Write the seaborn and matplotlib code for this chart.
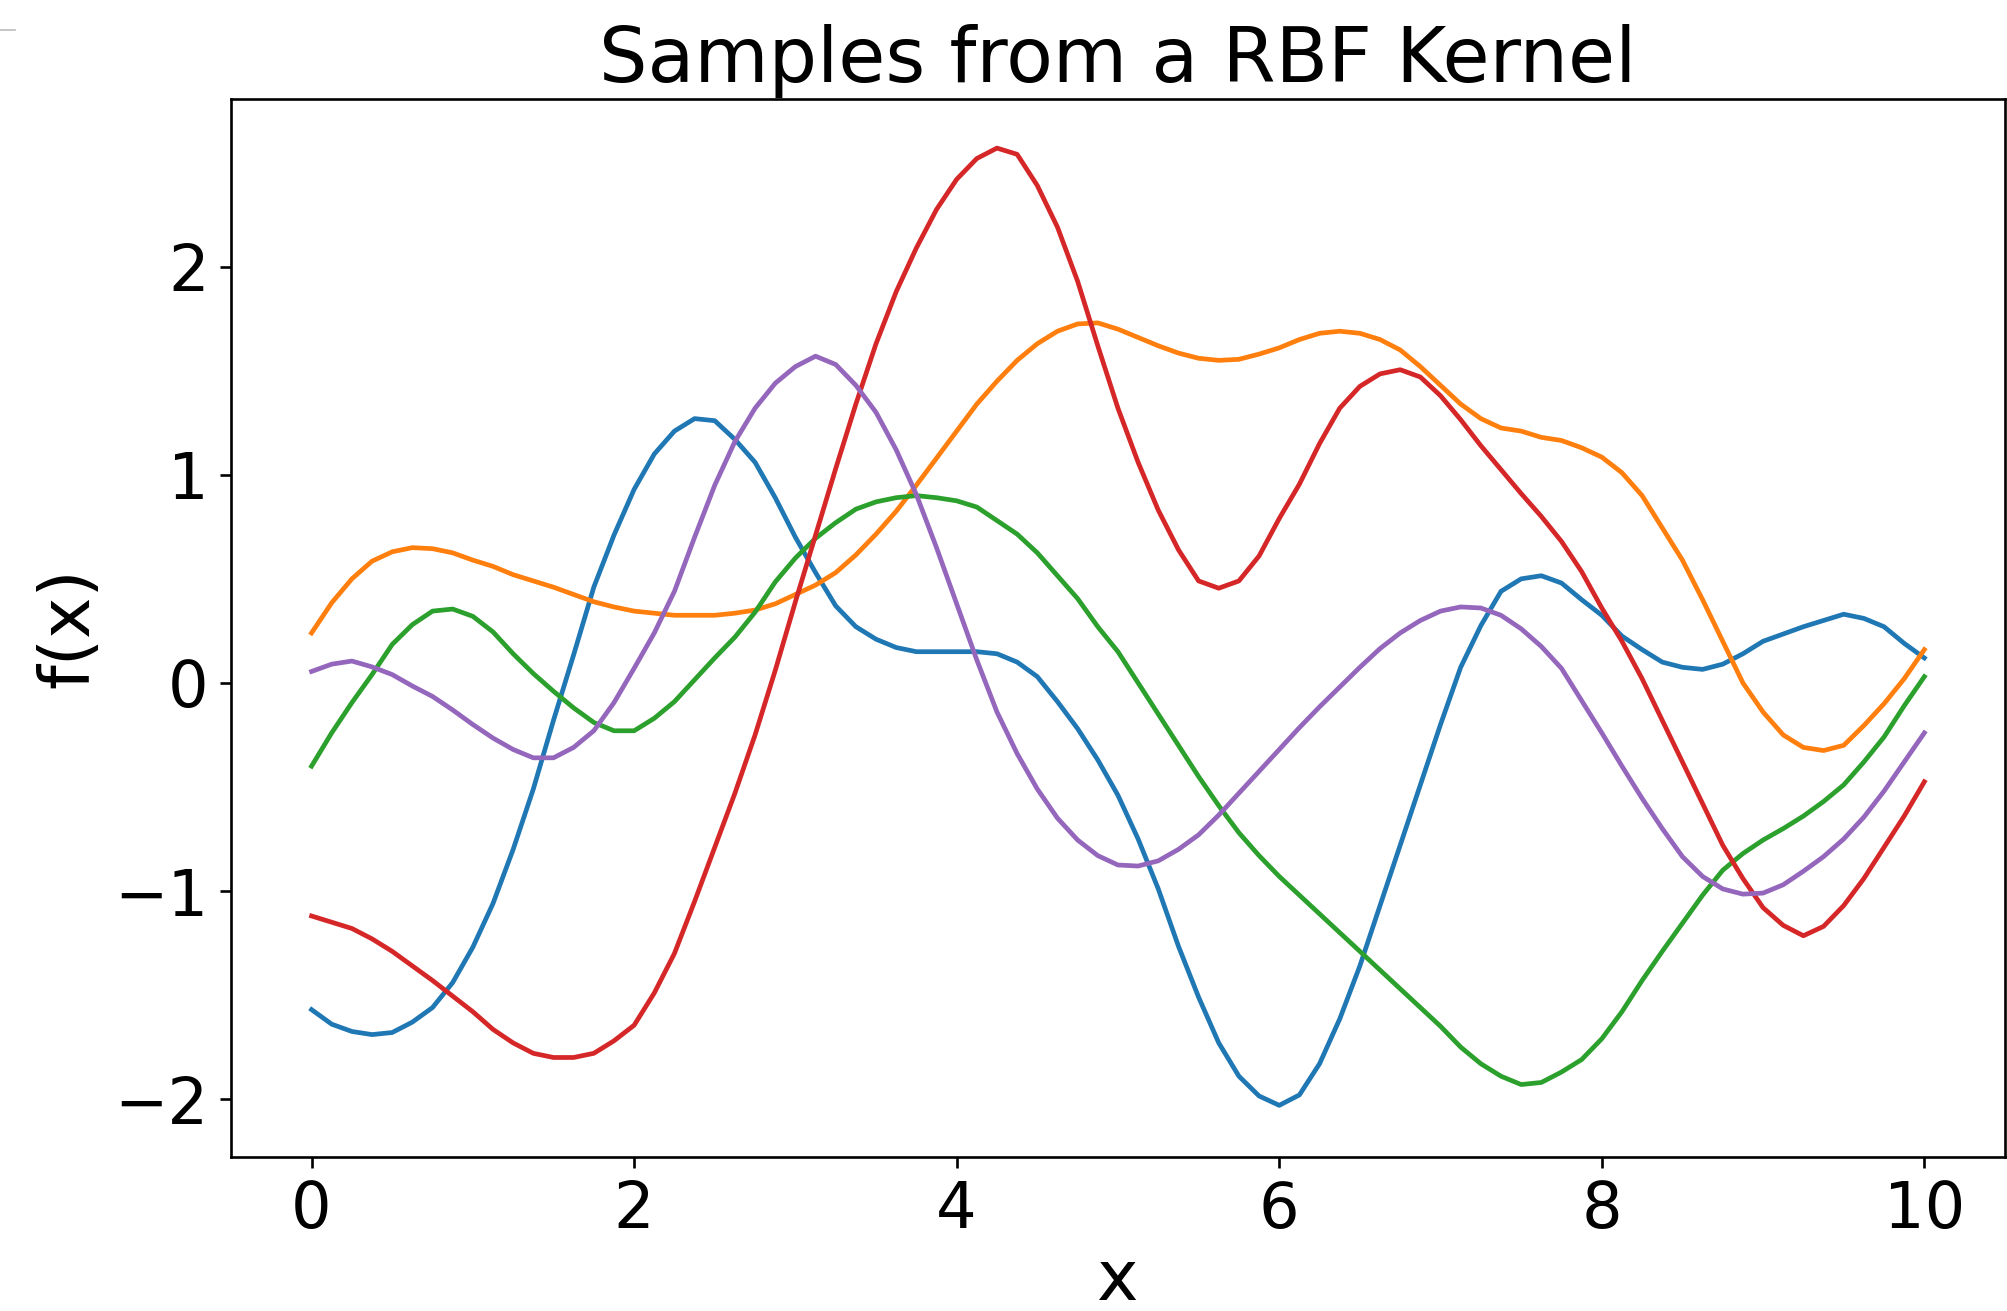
import numpy as np
import pandas as pd
import matplotlib
matplotlib.use("Agg")
import matplotlib.pyplot as plt
from matplotlib.lines import Line2D
import seaborn as sns

# x sampled every 0.125 from 0 to 10 (81 points)
x_vals = np.linspace(0, 10, 81)

sample_1 = [-1.57, -1.64, -1.675, -1.69, -1.68, -1.63, -1.56, -1.44,
            -1.27, -1.06, -0.80, -0.51, -0.18, 0.135, 0.46, 0.71,
            0.93, 1.10, 1.21, 1.27, 1.26, 1.17, 1.06, 0.89,
            0.70, 0.53, 0.37, 0.27, 0.21, 0.17, 0.15, 0.15,
            0.15, 0.15, 0.14, 0.10, 0.03, -0.09, -0.22, -0.37,
            -0.54, -0.75, -0.99, -1.265, -1.51, -1.73, -1.89, -1.985,
            -2.03, -1.98, -1.83, -1.615, -1.36, -1.07, -0.78, -0.49,
            -0.20, 0.075, 0.275, 0.44, 0.50, 0.515, 0.48, 0.40,
            0.325, 0.225, 0.16, 0.10, 0.075, 0.065, 0.09, 0.14,
            0.20, 0.235, 0.27, 0.30, 0.33, 0.31, 0.27, 0.19,
            0.12]
sample_2 = [0.24, 0.385, 0.50, 0.585, 0.63, 0.65, 0.645, 0.625,
            0.59, 0.56, 0.52, 0.49, 0.46, 0.425, 0.39, 0.365,
            0.345, 0.335, 0.325, 0.325, 0.325, 0.335, 0.35, 0.38,
            0.425, 0.47, 0.53, 0.615, 0.715, 0.825, 0.95, 1.08,
            1.21, 1.34, 1.45, 1.55, 1.63, 1.69, 1.725, 1.73,
            1.70, 1.66, 1.62, 1.585, 1.56, 1.55, 1.555, 1.58,
            1.61, 1.65, 1.68, 1.69, 1.68, 1.65, 1.60, 1.52,
            1.43, 1.34, 1.27, 1.225, 1.21, 1.18, 1.165, 1.13,
            1.085, 1.01, 0.90, 0.745, 0.59, 0.40, 0.20, 0.00,
            -0.14, -0.25, -0.31, -0.325, -0.30, -0.205, -0.10, 0.02,
            0.16]
sample_3 = [-0.40, -0.24, -0.095, 0.04, 0.185, 0.28, 0.345, 0.355,
            0.32, 0.245, 0.14, 0.045, -0.04, -0.12, -0.19, -0.23,
            -0.23, -0.17, -0.09, 0.015, 0.12, 0.22, 0.34, 0.485,
            0.60, 0.695, 0.77, 0.835, 0.87, 0.89, 0.90, 0.89,
            0.875, 0.845, 0.78, 0.715, 0.625, 0.515, 0.405, 0.27,
            0.15, 0.00, -0.15, -0.30, -0.45, -0.59, -0.72, -0.83,
            -0.93, -1.02, -1.11, -1.20, -1.29, -1.38, -1.47, -1.56,
            -1.65, -1.75, -1.83, -1.89, -1.93, -1.92, -1.87, -1.81,
            -1.71, -1.58, -1.43, -1.29, -1.155, -1.02, -0.90, -0.82,
            -0.755, -0.70, -0.64, -0.57, -0.49, -0.38, -0.26, -0.11,
            0.03]
sample_4 = [-1.12, -1.15, -1.18, -1.23, -1.29, -1.36, -1.43, -1.505,
            -1.58, -1.665, -1.73, -1.78, -1.80, -1.80, -1.78, -1.72,
            -1.645, -1.49, -1.30, -1.05, -0.79, -0.53, -0.25, 0.06,
            0.39, 0.71, 1.03, 1.34, 1.63, 1.88, 2.09, 2.275,
            2.42, 2.52, 2.57, 2.54, 2.39, 2.19, 1.93, 1.62,
            1.32, 1.06, 0.83, 0.64, 0.49, 0.455, 0.49, 0.61,
            0.79, 0.955, 1.15, 1.32, 1.425, 1.485, 1.505, 1.47,
            1.38, 1.265, 1.14, 1.025, 0.91, 0.80, 0.68, 0.535,
            0.36, 0.20, 0.02, -0.18, -0.38, -0.58, -0.78, -0.94,
            -1.08, -1.165, -1.215, -1.17, -1.07, -0.94, -0.79, -0.64,
            -0.475]
sample_5 = [0.055, 0.09, 0.105, 0.077, 0.04, -0.015, -0.065, -0.13,
            -0.20, -0.265, -0.32, -0.36, -0.36, -0.31, -0.23, -0.095,
            0.07, 0.24, 0.44, 0.70, 0.95, 1.16, 1.32, 1.44,
            1.52, 1.57, 1.53, 1.43, 1.30, 1.12, 0.905, 0.65,
            0.38, 0.11, -0.14, -0.34, -0.51, -0.65, -0.755, -0.83,
            -0.875, -0.88, -0.855, -0.80, -0.73, -0.635, -0.53, -0.425,
            -0.32, -0.215, -0.115, -0.02, 0.075, 0.165, 0.24, 0.30,
            0.345, 0.365, 0.36, 0.325, 0.26, 0.175, 0.07, -0.085,
            -0.24, -0.40, -0.555, -0.70, -0.835, -0.93, -0.99, -1.015,
            -1.01, -0.97, -0.905, -0.835, -0.75, -0.645, -0.52, -0.38,
            -0.24]

series = [sample_1, sample_2, sample_3, sample_4, sample_5]
names = ["s1", "s2", "s3", "s4", "s5"]
colors = ["#1f77b4", "#ff7f0e", "#2ca02c", "#d62728", "#9467bd"]

x_ticks = [0, 2, 4, 6, 8, 10]
y_ticks = [-2, -1, 0, 1, 2]

df = pd.concat(
    [pd.DataFrame({"x": x_vals, "f": vals, "sample": nm}) for nm, vals in zip(names, series)],
    ignore_index=True,
)

fig = plt.figure(figsize=(20.08, 13.11), dpi=100)
ax = fig.add_axes([0.1150, 0.1175, 0.8835, 0.8070])

sns.lineplot(data=df, x="x", y="f", hue="sample", palette=colors, legend=False,
             linewidth=3.4, ax=ax, estimator=None, sort=False)

ax.set_xlim(-0.5, 10.5)
ax.set_ylim(-2.278, 2.806)
ax.set_xticks(x_ticks)
ax.set_yticks(y_ticks)

for sp in ax.spines.values():
    sp.set_linewidth(1.9)
    sp.set_color("black")
ax.tick_params(axis="both", labelsize=46, length=8, width=1.9, pad=8, colors="black")

ax.set_title("Samples from a RBF Kernel", fontsize=55, pad=12.5)
ax.set_xlabel("x", fontsize=50.5, labelpad=4)
ax.set_ylabel("f(x)", fontsize=50.5, labelpad=9)

fig.add_artist(Line2D([0, 0.0075], [1 - 30 / 1311] * 2, color="#bbbbbb", lw=1.2,
                      transform=fig.transFigure))

fig.savefig("out.png", dpi=100, facecolor="white")
